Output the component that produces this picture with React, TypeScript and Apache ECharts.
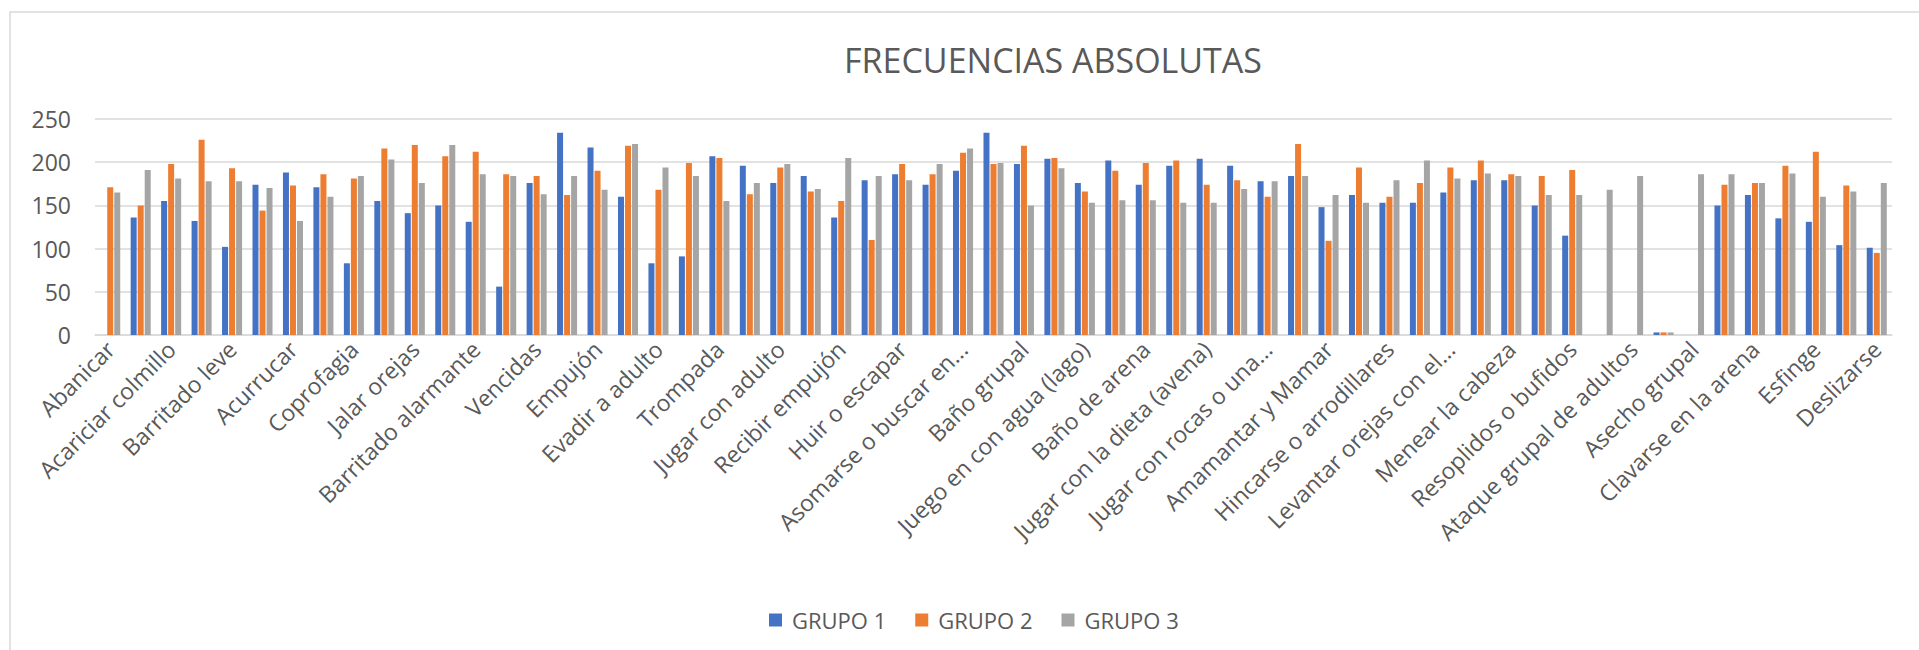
import React, { useEffect, useRef } from "react";
import * as echarts from "echarts";

const categories: string[] = [
  "Abanicar", "", "Acariciar colmillo", "", "Barritado leve", "", "Acurrucar", "", "Coprofagia", "",
  "Jalar orejas", "", "Barritado alarmante", "", "Vencidas", "", "Empujón", "", "Evadir a adulto", "",
  "Trompada", "", "Jugar con adulto", "", "Recibir empujón", "", "Huir o escapar", "", "Asomarse o buscar en...", "",
  "Baño grupal", "", "Juego en con agua (lago)", "", "Baño de arena", "", "Jugar con la dieta (avena)", "", "Jugar con rocas o una...", "",
  "Amamantar y Mamar", "", "Hincarse o arrodillares", "", "Levantar orejas con el...", "", "Menear la cabeza", "", "Resoplidos o bufidos", "",
  "Ataque grupal de adultos", "", "Asecho grupal", "", "Clavarse en la arena", "", "Esfinge", "", "Deslizarse",
];

const grupo1: number[] = [
  0, 136, 155, 132, 102, 174, 188, 171, 83, 155,
  141, 150, 131, 56, 176, 234, 217, 160, 83, 91,
  207, 196, 176, 184, 136, 179, 186, 174, 190, 234,
  198, 204, 176, 202, 174, 196, 204, 196, 178, 184,
  148, 162, 153, 153, 165, 179, 179, 150, 115, 0,
  0, 3, 0, 150, 162, 135, 131, 104, 101,
];

const grupo2: number[] = [
  171, 150, 198, 226, 193, 144, 173, 186, 181, 216,
  220, 207, 212, 186, 184, 162, 190, 219, 168, 199,
  205, 163, 194, 166, 155, 110, 198, 186, 211, 198,
  219, 205, 166, 190, 199, 202, 174, 179, 160, 221,
  109, 194, 160, 176, 194, 202, 186, 184, 191, 0,
  0, 3, 0, 174, 176, 196, 212, 173, 95,
];

const grupo3: number[] = [
  165, 191, 181, 178, 178, 170, 132, 160, 184, 203,
  176, 220, 186, 184, 163, 184, 168, 221, 194, 184,
  155, 176, 198, 169, 205, 184, 179, 198, 216, 199,
  150, 193, 153, 156, 156, 153, 153, 169, 178, 184,
  162, 153, 179, 202, 181, 187, 184, 162, 162, 168,
  184, 3, 186, 186, 176, 187, 160, 166, 176,
];

const seriesNames: string[] = ["GRUPO 1", "GRUPO 2", "GRUPO 3"];
const yTicks = { min: 0, max: 250, interval: 50 };

export default function App() {
  const ref = useRef<HTMLDivElement>(null);

  useEffect(() => {
    if (!ref.current) return;
    const chart = echarts.init(ref.current, undefined, { renderer: "svg" });
    const font = "'Open Sans', sans-serif";
    const colors = ["#4472C4", "#ED7D31", "#A5A5A5"];
    const data = [grupo1, grupo2, grupo3];
    chart.setOption({
      animation: false,
      backgroundColor: "#ffffff",
      color: colors,
      title: {
        text: "FRECUENCIAS ABSOLUTAS",
        left: 1048,
        top: 38,
        textAlign: "center",
        textStyle: { fontFamily: font, fontSize: 34, fontWeight: "normal", color: "#595959" },
      },
      graphic: [
        {
          type: "rect",
          shape: { x: 10, y: 12, width: 2000, height: 700 },
          style: { fill: "none", stroke: "#D9D9D9", lineWidth: 1.5 },
          silent: true,
          z: -1,
        },
      ],
      legend: {
        data: seriesNames,
        left: 764,
        top: 604,
        icon: "rect",
        itemWidth: 13,
        itemHeight: 13,
        itemGap: 29,
        textStyle: { fontFamily: font, fontSize: 22, color: "#595959", padding: [0, 0, 0, 5] },
      },
      grid: { left: 95, right: 27, top: 119, bottom: 315, containLabel: false },
      xAxis: {
        type: "category",
        data: categories,
        axisLine: { lineStyle: { color: "#D9D9D9", width: 1.5 } },
        axisTick: { show: false },
        axisLabel: {
          interval: 1,
          rotate: 45,
          margin: 10,
          fontFamily: font,
          fontSize: 23,
          color: "#595959",
        },
      },
      yAxis: {
        type: "value",
        min: yTicks.min,
        max: yTicks.max,
        interval: yTicks.interval,
        axisLine: { show: false },
        axisTick: { show: false },
        splitLine: { lineStyle: { color: "#D9D9D9", width: 1.5 } },
        axisLabel: { margin: 24, fontFamily: font, fontSize: 23, color: "#595959" },
      },
      series: seriesNames.map((name, i) => ({
        name,
        type: "bar",
        data: data[i],
        barWidth: 6,
        barGap: "17%",
        itemStyle: { color: colors[i] },
      })),
    });
    return () => chart.dispose();
  }, []);

  return (
    <div
      ref={ref}
      style={{ position: "fixed", left: 0, top: 0, width: 1919, height: 650 }}
    />
  );
}
